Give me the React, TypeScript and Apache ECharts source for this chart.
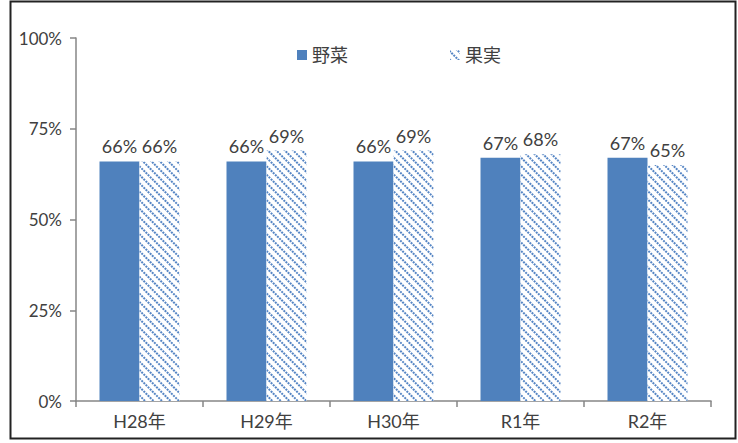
import React, { useEffect, useRef } from "react";
import * as echarts from "echarts";

const categories = ["H28年", "H29年", "H30年", "R1年", "R2年"];
const vegetables = [66, 66, 66, 67, 67];
const fruits = [66, 69, 69, 68, 65];
const yTicks = [0, 25, 50, 75, 100];

const FONT = "Lato, 'Noto Sans CJK JP', sans-serif";
const TEXT = "#404040";

export default function App() {
  const ref = useRef<HTMLDivElement>(null);
  useEffect(() => {
    if (!ref.current) return;
    const chart = echarts.init(ref.current, null, { renderer: "svg" });
    const label = {
      show: true,
      position: "top" as const,
      formatter: (p: any) => `${p.value}%`,
      fontSize: 18,
      color: TEXT,
      fontFamily: FONT,
      distance: 6,
    };
    chart.setOption({
      animation: false,
      backgroundColor: "#ffffff",
      textStyle: { fontFamily: FONT },
      graphic: [
        {
          type: "rect",
          shape: { x: 10.5, y: 1.5, width: 725, height: 437 },
          style: { fill: "none", stroke: "#222", lineWidth: 2 },
          silent: true,
        },
      ],
      legend: {
        left: 292,
        top: 41,
        itemWidth: 10,
        itemHeight: 10,
        itemGap: 102,
        icon: "rect",
        textStyle: { fontSize: 18, color: TEXT, fontFamily: FONT },
        data: ["野菜", "果実"],
      },
      grid: { left: 76, right: 27, top: 38, bottom: 42 },
      xAxis: {
        type: "category",
        data: categories,
        axisLine: { lineStyle: { color: "#868686", width: 1.5 } },
        axisTick: { show: true, length: 6, lineStyle: { color: "#868686", width: 1.5 } },
        axisLabel: { fontSize: 18, color: TEXT, margin: 11, fontFamily: FONT },
      },
      yAxis: {
        type: "value",
        min: yTicks[0],
        max: yTicks[yTicks.length - 1],
        interval: 25,
        axisLine: { show: true, lineStyle: { color: "#868686", width: 1.5 } },
        axisTick: { show: true, length: 6, lineStyle: { color: "#868686", width: 1.5 } },
        splitLine: { show: false },
        axisLabel: {
          fontSize: 17,
          color: TEXT,
          margin: 14,
          fontFamily: FONT,
          formatter: (v: number) => `${v}%`,
        },
      },
      series: [
        {
          name: "野菜",
          type: "bar",
          data: vegetables,
          barWidth: 40,
          barGap: "0%",
          itemStyle: { color: "#4f81bd" },
          label,
        },
        {
          name: "果実",
          type: "bar",
          data: fruits,
          barWidth: 40,
          barGap: "0%",
          itemStyle: {
            color: "#ffffff",
            decal: {
              symbol: "rect",
              symbolSize: 1,
              color: "#5585c4",
              backgroundColor: "#ffffff",
              dashArrayX: [[2, 1]],
              dashArrayY: [1.3, 3.2],
              rotation: Math.PI / 4,
            },
          },
          label,
        },
      ],
    });
    return () => chart.dispose();
  }, []);
  return (
    <div
      ref={ref}
      style={{ position: "fixed", left: 0, top: 0, width: 738, height: 443 }}
    />
  );
}
